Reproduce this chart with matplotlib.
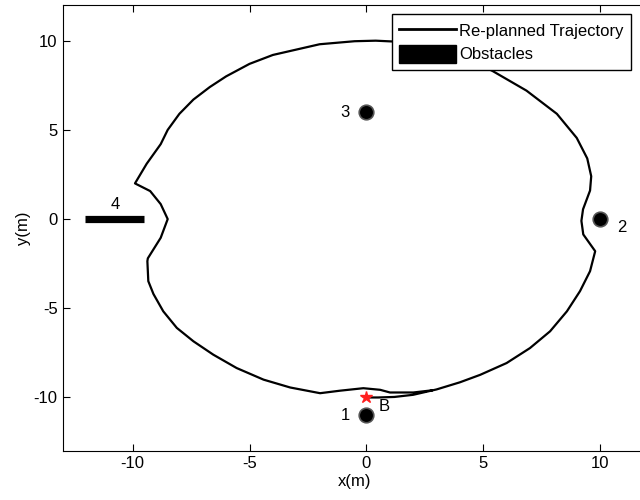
import matplotlib

matplotlib.use("Agg")
import matplotlib.pyplot as plt
from matplotlib.lines import Line2D
from matplotlib.patches import Patch

plt.rcParams["font.family"] = ["Liberation Sans", "DejaVu Sans"]
plt.rcParams["font.size"] = 12
plt.rcParams["axes.unicode_minus"] = False

# re-planned trajectory, starting at B and going counter-clockwise
traj_x = [0.0, 0.5, 1.2, 2.0, 3.0, 4.0, 4.87, 6.0, 7.0, 7.86,
          8.58, 9.14, 9.57, 9.79, 9.28, 9.2, 9.27, 9.57, 9.62, 9.45,
          9.0, 8.15, 6.85, 5.4, 4.4, 3.3, 2.3, 1.2, 0.4, -0.5,
          -2.0, -3.0, -4.0, -5.0, -6.0, -6.7, -7.4, -8.0, -8.5, -8.8,
          -9.4, -9.9, -9.25, -8.8, -8.5, -8.8, -9.35, -9.37, -9.33, -9.11,
          -8.69, -8.11, -7.4, -6.55, -5.55, -4.4, -3.26, -1.98, -1.13, -0.13,
          0.59, 1.01, 2.01, 2.8]
traj_y = [-10.0, -10.0, -9.97, -9.85, -9.55, -9.15, -8.73, -8.07, -7.23, -6.29,
          -5.17, -4.04, -2.92, -1.8, -0.86, -0.1, 0.55, 1.6, 2.4, 3.4,
          4.55, 5.9, 7.2, 8.3, 8.95, 9.4, 9.7, 9.95, 10.0, 9.97,
          9.8, 9.5, 9.2, 8.7, 8.0, 7.4, 6.7, 5.9, 5.0, 4.2,
          3.1, 2.0, 1.57, 0.84, 0.0, -1.05, -2.2, -2.36, -3.48, -4.2,
          -5.17, -6.1, -6.85, -7.6, -8.35, -9.0, -9.44, -9.76, -9.62, -9.48,
          -9.57, -9.72, -9.72, -9.6]

# round obstacles 1..3 and the bar obstacle 4
obs_x = [0.0, 10.0, 0.0]
obs_y = [-11.0, 0.0, 6.0]
obs_names = ["1", "2", "3"]
bar_x = [-12.05, -9.5]
bar_y = [0.0, 0.0]

start_x, start_y = 0.0, -10.0

fig = plt.figure(figsize=(6.4, 5.0), dpi=100)
ax = fig.add_axes([0.0977, 0.098, 0.913, 0.892])

ax.plot(traj_x, traj_y, color="black", linewidth=1.6)
ax.plot(bar_x, bar_y, color="black", linewidth=5.2, solid_capstyle="butt")
ax.plot(obs_x, obs_y, "o", color="black", markersize=10.5,
        markeredgecolor="#555555", markeredgewidth=1.2)
ax.plot(start_x, start_y, "*", color="#ff2020", markersize=9)

label_offsets = [(-0.9, 0.0), (0.95, -0.45), (-0.9, 0.0)]
for x, y, name, (dx, dy) in zip(obs_x, obs_y, obs_names, label_offsets):
    ax.text(x + dx, y + dy, name, ha="center", va="center")
ax.text(-10.75, 0.84, "4", ha="center", va="center")
ax.text(start_x + 0.75, start_y - 0.5, "B", ha="center", va="center")

ax.set_xlim(-13, 12)
ax.set_ylim(-13, 12)
ax.set_xticks([-10, -5, 0, 5, 10])
ax.set_yticks([-10, -5, 0, 5, 10])
ax.tick_params(direction="in", top=True, right=True, length=5, labelsize=12)
ax.set_xlabel("x(m)", labelpad=2)
ax.set_ylabel("y(m)", labelpad=2)

handles = [Line2D([0], [0], color="black", linewidth=2),
           Patch(facecolor="black", edgecolor="black")]
fig.legend(handles, ["Re-planned Trajectory", "Obstacles"],
           loc="upper left", bbox_to_anchor=(0.612, 0.972),
           frameon=True, fancybox=False, edgecolor="black",
           framealpha=1, borderpad=0.45, handlelength=3.4, handleheight=1.25,
           labelspacing=0.35, handletextpad=0.2, borderaxespad=0)

fig.savefig("out.png", dpi=100)
